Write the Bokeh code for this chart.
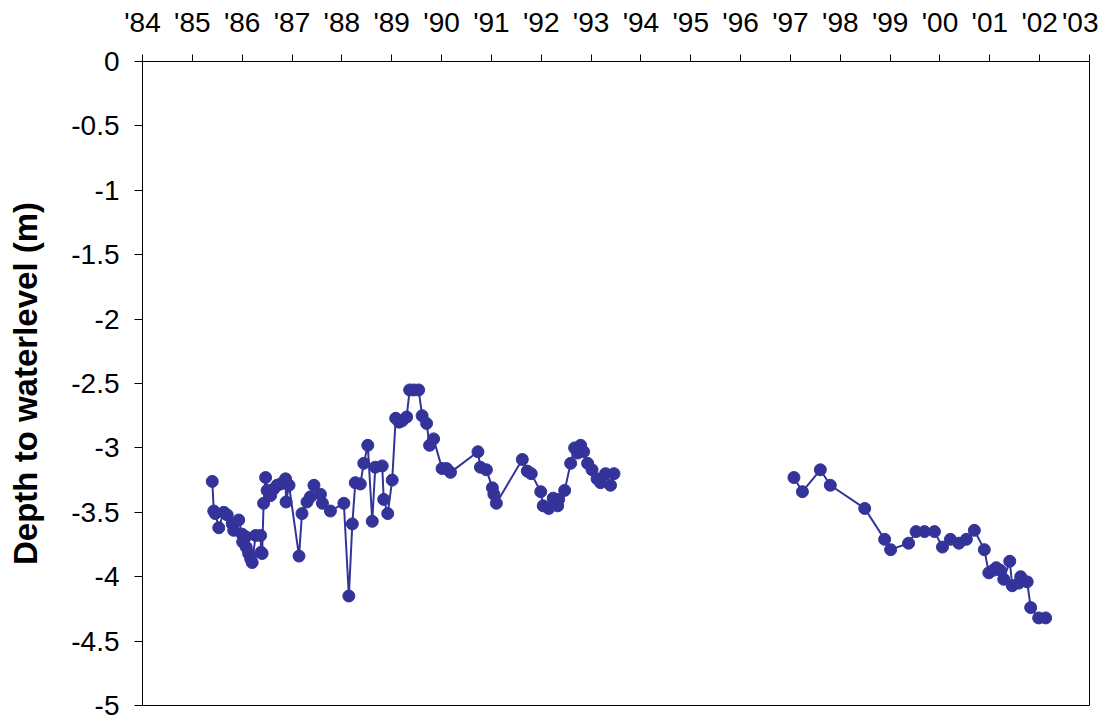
from bokeh.plotting import figure
from bokeh.models import FixedTicker, CustomJSTickFormatter, Range1d
from bokeh.embed import file_html
from bokeh.resources import INLINE

# Period 1 (1985-1993)
years_a = [1985.40, 1985.43, 1985.46, 1985.53, 1985.63, 1985.70, 1985.80, 1985.83, 1985.93, 1986.00,
           1986.01, 1986.07, 1986.08, 1986.13, 1986.17, 1986.20, 1986.27, 1986.37, 1986.38, 1986.40,
           1986.43, 1986.47, 1986.50, 1986.57, 1986.63, 1986.70, 1986.77, 1986.87, 1986.88, 1986.94,
           1987.14, 1987.20, 1987.30, 1987.37, 1987.44, 1987.57, 1987.61, 1987.77, 1988.04, 1988.14,
           1988.21, 1988.27, 1988.37, 1988.44, 1988.52, 1988.61, 1988.67, 1988.81, 1988.84, 1988.92,
           1989.01, 1989.08, 1989.15, 1989.21, 1989.30, 1989.36, 1989.44, 1989.54, 1989.61, 1989.70,
           1989.76, 1989.84, 1990.01, 1990.10, 1990.18, 1990.73, 1990.78, 1990.90, 1991.02, 1991.05,
           1991.10, 1991.62, 1991.72, 1991.80, 1991.99, 1992.04, 1992.15, 1992.24, 1992.33, 1992.35,
           1992.47, 1992.59, 1992.67, 1992.73, 1992.79, 1992.85, 1992.93, 1993.02, 1993.12, 1993.19,
           1993.29, 1993.39, 1993.46]
depth_a = [-3.26, -3.49, -3.51, -3.62, -3.50, -3.52, -3.59, -3.64, -3.56, -3.67,
           -3.73, -3.69, -3.77, -3.82, -3.86, -3.89, -3.68, -3.68, -3.81, -3.82,
           -3.43, -3.23, -3.33, -3.37, -3.32, -3.29, -3.28, -3.24, -3.42, -3.29,
           -3.84, -3.51, -3.42, -3.38, -3.29, -3.36, -3.43, -3.49, -3.43, -4.15,
           -3.59, -3.27, -3.28, -3.12, -2.98, -3.57, -3.15, -3.14, -3.40, -3.51,
           -3.25, -2.77, -2.80, -2.79, -2.76, -2.55, -2.55, -2.55, -2.75, -2.81,
           -2.98, -2.93, -3.16, -3.16, -3.19, -3.03, -3.15, -3.17, -3.31, -3.36,
           -3.43, -3.09, -3.18, -3.20, -3.34, -3.45, -3.47, -3.39, -3.45, -3.40,
           -3.33, -3.12, -3.00, -3.04, -2.98, -3.03, -3.12, -3.17, -3.24, -3.27,
           -3.20, -3.29, -3.20]

# Period 2 (1997-2002)
years_b = [1997.07, 1997.24, 1997.60, 1997.80, 1998.49, 1998.89, 1999.01, 1999.37, 1999.52, 1999.69,
           1999.89, 2000.05, 2000.21, 2000.38, 2000.53, 2000.69, 2000.89, 2000.98, 2001.07, 2001.13,
           2001.21, 2001.28, 2001.40, 2001.45, 2001.58, 2001.62, 2001.75, 2001.82, 2001.98, 2002.12]
depth_b = [-3.23, -3.34, -3.17, -3.29, -3.47, -3.71, -3.79, -3.74, -3.65, -3.65,
           -3.65, -3.77, -3.71, -3.74, -3.71, -3.64, -3.79, -3.97, -3.95, -3.93,
           -3.95, -4.02, -3.88, -4.07, -4.05, -4.00, -4.04, -4.24, -4.32, -4.32]

x_ticks = list(range(1984, 2004))
y_ticks = [0, -0.5, -1, -1.5, -2, -2.5, -3, -3.5, -4, -4.5, -5]
y_title = "Depth to waterlevel (m)"

COLOR = "#333399"
FONT = "Liberation Sans"

p = figure(width=1098, height=717, output_backend="svg", toolbar_location=None,
           x_axis_location="above",
           x_range=Range1d(1984, 2003), y_range=Range1d(-5, 0),
           min_border_left=142, min_border_right=9, min_border_top=61, min_border_bottom=12)

p.grid.visible = False
p.outline_line_color = "black"
p.outline_line_width = 1
p.background_fill_color = "white"
p.border_fill_color = "white"

for xs, ys in [(years_a, depth_a), (years_b, depth_b)]:
    p.line(xs, ys, line_color=COLOR, line_width=2)
    p.scatter(xs, ys, size=12, fill_color=COLOR, line_color=COLOR)

xa = p.xaxis[0]
xa.ticker = FixedTicker(ticks=x_ticks)
xa.formatter = CustomJSTickFormatter(code="return \"'\" + String(Math.round(tick)).slice(2);")
xa.major_tick_out = 7
xa.major_tick_in = 0
xa.minor_tick_line_color = None
xa.axis_line_color = "black"
xa.major_tick_line_color = "black"
xa.major_label_text_font = FONT
xa.major_label_text_font_size = "28px"
xa.major_label_text_color = "black"
xa.major_label_standoff = 17

ya = p.yaxis[0]
ya.ticker = FixedTicker(ticks=y_ticks)
ya.formatter = CustomJSTickFormatter(code="return String(tick);")
ya.major_tick_out = 8
ya.major_tick_in = 0
ya.minor_tick_line_color = None
ya.axis_line_color = "black"
ya.major_tick_line_color = "black"
ya.major_label_text_font = FONT
ya.major_label_text_font_size = "28px"
ya.major_label_text_color = "black"
ya.major_label_standoff = 15
ya.axis_label = y_title
ya.axis_label_text_font = FONT
ya.axis_label_text_font_style = "bold"
ya.axis_label_text_font_size = "33px"
ya.axis_label_text_color = "black"
ya.axis_label_standoff = 24

open("out.html", "w").write(file_html(p, INLINE))
